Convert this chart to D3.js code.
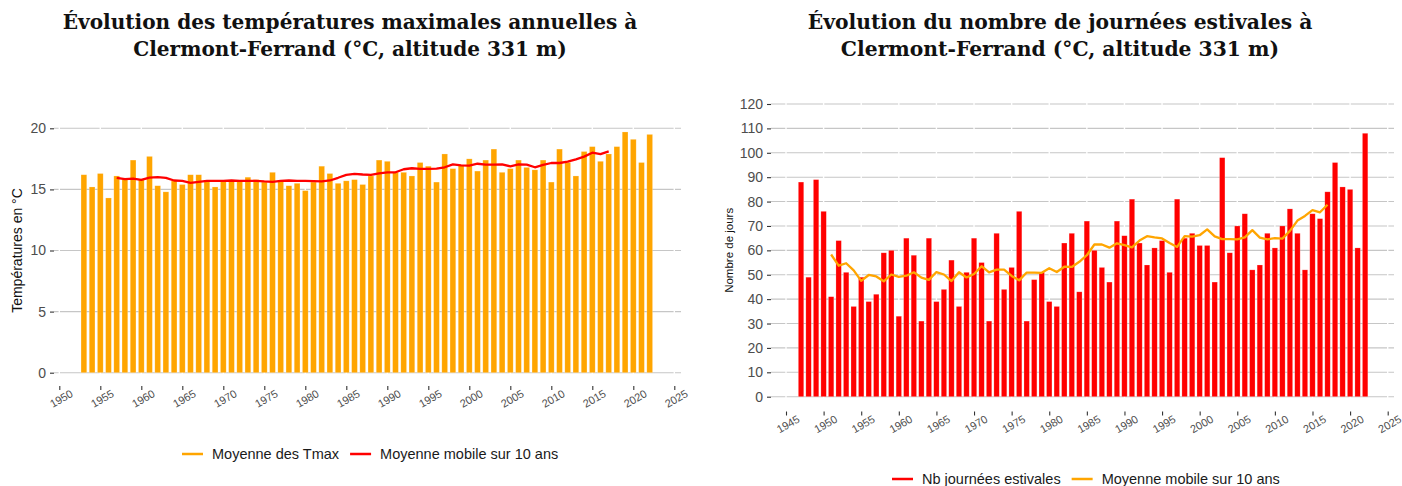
<!DOCTYPE html>
<html>
<head>
<meta charset="utf-8">
<script src="https://cdn.jsdelivr.net/npm/d3@7"></script>
<style>
  body { margin: 0; background: #ffffff; }
  svg { display: block; }
</style>
</head>
<body>
<svg id="chart" width="1402" height="486"></svg>
<script>
// ---------- Data: annual maximum temperatures ----------
const tmaxYears = [1953,1954,1955,1956,1957,1958,1959,1960,1961,1962,1963,1964,1965,1966,1967,1968,1969,1970,
  1971,1972,1973,1974,1975,1976,1977,1978,1979,1980,1981,1982,1983,1984,1985,1986,1987,1988,1989,1990,
  1991,1992,1993,1994,1995,1996,1997,1998,1999,2000,2001,2002,2003,2004,2005,2006,2007,2008,2009,2010,
  2011,2012,2013,2014,2015,2016,2017,2018,2019,2020,2021,2022];
const tmaxValues = [16.2,15.2,16.3,14.3,16.1,15.8,17.4,15.8,17.7,15.3,14.8,15.7,15.4,16.2,16.2,15.7,15.2,15.7,
  15.7,15.7,16.0,15.8,15.6,16.4,15.7,15.3,15.5,14.9,15.6,16.9,16.3,15.5,15.7,15.8,15.4,16.1,17.4,17.3,
  16.4,16.4,16.1,17.2,16.9,15.6,17.9,16.7,17.0,17.5,16.5,17.4,18.3,16.4,16.7,17.4,16.8,16.6,17.4,15.6,
  18.3,17.2,16.1,18.1,18.5,17.3,17.9,18.5,19.7,19.1,17.2,19.5];
const tmaxMAYears = [1957,1958,1959,1960,1961,1962,1963,1964,1965,1966,1967,1968,1969,1970,1971,1972,1973,
  1974,1975,1976,1977,1978,1979,1980,1981,1982,1983,1984,1985,1986,1987,1988,1989,1990,1991,1992,1993,
  1994,1995,1996,1997,1998,1999,2000,2001,2002,2003,2004,2005,2006,2007,2008,2009,2010,2011,2012,2013,
  2014,2015,2016,2017];
const tmaxMAValues = [15.95,15.84,15.89,15.78,15.97,16.00,15.95,15.73,15.70,15.54,15.62,15.70,15.70,15.70,
  15.73,15.70,15.70,15.70,15.65,15.62,15.70,15.73,15.70,15.70,15.68,15.65,15.73,15.95,16.19,16.27,16.22,
  16.19,16.32,16.40,16.40,16.65,16.73,16.68,16.68,16.70,16.81,17.05,16.97,16.95,17.10,17.03,17.03,17.05,
  16.89,17.05,17.03,16.81,17.00,17.16,17.16,17.27,17.46,17.68,18.00,17.89,18.11];
const tmaxYTicks = [0, 5, 10, 15, 20];
const tmaxXTicks = [1950,1955,1960,1965,1970,1975,1980,1985,1990,1995,2000,2005,2010,2015,2020,2025];

// ---------- Data: number of summer days ----------
const summerYears = [1947,1948,1949,1950,1951,1952,1953,1954,1955,1956,1957,1958,1959,1960,1961,1962,1963,
  1964,1965,1966,1967,1968,1969,1970,1971,1972,1973,1974,1975,1976,1977,1978,1979,1980,1981,1982,1983,
  1984,1985,1986,1987,1988,1989,1990,1991,1992,1993,1994,1995,1996,1997,1998,1999,2000,2001,2002,2003,
  2004,2005,2006,2007,2008,2009,2010,2011,2012,2013,2014,2015,2016,2017,2018,2019,2020,2021,2022];
const summerValues = [88,49,89,76,41,64,51,37,49,39,42,59,60,33,65,58,31,65,39,44,56,37,51,65,55,31,67,44,
  53,76,31,48,51,39,37,63,67,43,72,60,53,47,72,66,81,63,54,61,64,51,81,65,67,62,62,47,98,59,70,75,52,54,
  67,61,70,77,67,52,75,73,84,96,86,85,61,108];
const summerMAYears = [1951,1952,1953,1954,1955,1956,1957,1958,1959,1960,1961,1962,1963,1964,1965,1966,1967,
  1968,1969,1970,1971,1972,1973,1974,1975,1976,1977,1978,1979,1980,1981,1982,1983,1984,1985,1986,1987,
  1988,1989,1990,1991,1992,1993,1994,1995,1996,1997,1998,1999,2000,2001,2002,2003,2004,2005,2006,2007,
  2008,2009,2010,2011,2012,2013,2014,2015,2016,2017];
const summerMAValues = [58.3,53.7,54.7,51.8,47.5,49.9,49.3,47.3,50.1,49.1,49.6,51.0,48.8,47.9,51.1,50.1,47.4,
  51.0,48.9,50.3,53.5,51.0,52.1,52.1,49.5,47.7,50.9,50.9,50.8,52.7,51.1,53.3,53.2,55.3,58.0,62.4,62.4,
  61.1,62.9,62.1,61.2,64.0,65.8,65.3,64.9,63.0,61.4,65.8,65.6,66.2,68.6,65.7,64.6,64.6,64.5,65.3,68.3,
  65.2,64.5,65.0,64.8,68.0,72.2,74.1,76.5,75.6,78.7];
const summerYTicks = [0,10,20,30,40,50,60,70,80,90,100,110,120];
const summerXTicks = [1945,1950,1955,1960,1965,1970,1975,1980,1985,1990,1995,2000,2005,2010,2015,2020,2025];

// ---------- Text ----------
const tmaxTitle = ["Évolution des températures maximales annuelles à", "Clermont-Ferrand (°C, altitude 331 m)"];
const summerTitle = ["Évolution du nombre de journées estivales à", "Clermont-Ferrand (°C, altitude 331 m)"];
const tmaxYLabel = "Températures en °C";
const summerYLabel = "Nombre de jours";
const tmaxLegend = ["Moyenne des Tmax", "Moyenne mobile sur 10 ans"];
const summerLegend = ["Nb journées estivales", "Moyenne mobile sur 10 ans"];

const ORANGE = "#FFA500";
const RED = "#FF0000";
const GRID = "#c6c6c6";
const SANS = "'Liberation Sans', Arial, Helvetica, sans-serif";
const SERIF = "'DejaVu Serif', 'Liberation Serif', serif";

const svg = d3.select("#chart");

function drawTitle(lines, cx, width1) {
  const g = svg.append("g");
  const t1 = g.append("text").text(lines[0])
    .attr("x", cx).attr("y", 29).attr("text-anchor", "middle")
    .attr("font-family", SERIF).attr("font-weight", "bold").attr("font-size", 20).attr("fill", "#111");
  const w = t1.node().getComputedTextLength();
  const fs = 20 * width1 / w;
  t1.attr("font-size", fs);
  g.append("text").text(lines[1])
    .attr("x", cx).attr("y", 56).attr("text-anchor", "middle")
    .attr("font-family", SERIF).attr("font-weight", "bold").attr("font-size", fs).attr("fill", "#111");
}

function drawPanel(cfg) {
  const g = svg.append("g");
  const x = d3.scaleLinear().domain(cfg.xDomain).range(cfg.xRange);
  const y = d3.scaleLinear().domain(cfg.yDomain).range(cfg.yRange);
  const [pl, pr] = cfg.panelX;
  const pb = cfg.panelBottom;
  const pt = cfg.panelTop;

  // horizontal grid
  g.append("g").selectAll("line").data(cfg.yTicks).join("line")
    .attr("x1", pl).attr("x2", pr)
    .attr("y1", d => y(d)).attr("y2", d => y(d))
    .attr("stroke", GRID).attr("stroke-width", 1.1);
  // white vertical grid (breaks in the horizontal lines)
  g.append("g").selectAll("line").data(cfg.xTicks).join("line")
    .attr("x1", d => x(d)).attr("x2", d => x(d))
    .attr("y1", pt).attr("y2", pb)
    .attr("stroke", "#ffffff").attr("stroke-width", 1.4);

  // bars
  const band = Math.abs(x(cfg.xDomain[0] + 1) - x(cfg.xDomain[0]));
  const bw = band * cfg.barRatio;
  g.append("g").selectAll("rect").data(d3.zip(cfg.years, cfg.values)).join("rect")
    .attr("x", d => x(d[0]) - bw / 2)
    .attr("width", bw)
    .attr("y", d => y(d[1]))
    .attr("height", d => y(0) - y(d[1]))
    .attr("fill", cfg.barColor)
    .attr("stroke", "#ffffff").attr("stroke-opacity", 0.35).attr("stroke-width", 0.6);

  // moving average
  const line = d3.line().x(d => x(d[0])).y(d => y(d[1]));
  g.append("path").datum(d3.zip(cfg.maYears, cfg.maValues))
    .attr("d", line).attr("fill", "none")
    .attr("stroke", cfg.lineColor).attr("stroke-width", 2.3)
    .attr("stroke-linejoin", "round").attr("stroke-linecap", "butt");

  // y axis
  const ya = g.append("g").attr("transform", `translate(${pl},0)`)
    .call(d3.axisLeft(y).tickValues(cfg.yTicks).tickSize(4).tickPadding(4).tickFormat(d3.format("d")));
  ya.select(".domain").remove();
  ya.selectAll(".tick line").attr("stroke", "#333333").attr("stroke-width", 1.1);
  ya.selectAll(".tick text").attr("font-family", SANS).attr("font-size", cfg.yTickSize).attr("fill", "#4d4d4d");

  // x axis
  const xa = g.append("g").attr("transform", `translate(0,${pb})`)
    .call(d3.axisBottom(x).tickValues(cfg.xTicks).tickSize(4).tickFormat(d3.format("d")));
  xa.select(".domain").remove();
  xa.selectAll(".tick line").attr("stroke", "#333333").attr("stroke-width", 1.1);
  xa.selectAll(".tick text")
    .attr("y", null).attr("dy", null)
    .attr("transform", "translate(1.5,12.5) rotate(-30)")
    .attr("text-anchor", "middle").attr("dominant-baseline", "central")
    .attr("font-family", SANS).attr("font-size", 11).attr("fill", "#4d4d4d");

  // y axis title
  g.append("text").text(cfg.yLabel)
    .attr("transform", `translate(${cfg.yLabelX},${(y(cfg.yTicks[0]) + y(cfg.yTicks[cfg.yTicks.length - 1])) / 2 + cfg.yLabelShift}) rotate(-90)`)
    .attr("text-anchor", "middle").attr("dominant-baseline", "central")
    .attr("font-family", SANS).attr("font-size", cfg.yLabelSize).attr("fill", "#111");

  // legend
  const lg = g.append("g");
  let cx = cfg.legendX;
  cfg.legendLabels.forEach((lab, i) => {
    lg.append("line").attr("x1", cx).attr("x2", cx + 21)
      .attr("y1", cfg.legendY).attr("y2", cfg.legendY)
      .attr("stroke", cfg.legendColors[i]).attr("stroke-width", 2.5);
    const t = lg.append("text").text(lab)
      .attr("x", cx + 30).attr("y", cfg.legendY)
      .attr("dominant-baseline", "central")
      .attr("font-family", SANS).attr("font-size", 14.5).attr("fill", "#1a1a1a");
    cx = cx + 30 + t.node().getComputedTextLength() + 11;
  });
}

drawTitle(tmaxTitle, 350, 575);
drawTitle(summerTitle, 1060, 505);

drawPanel({
  years: tmaxYears, values: tmaxValues, maYears: tmaxMAYears, maValues: tmaxMAValues,
  yTicks: tmaxYTicks, xTicks: tmaxXTicks,
  xDomain: [1950, 2025], xRange: [59.3, 674.3],
  yDomain: [0, 20], yRange: [372.7, 128.3],
  panelX: [54, 681], panelTop: 112, panelBottom: 386,
  barRatio: 0.7, barColor: ORANGE, lineColor: RED,
  yTickSize: 14, yLabel: tmaxYLabel, yLabelX: 17, yLabelShift: 0, yLabelSize: 14,
  legendLabels: tmaxLegend, legendColors: [ORANGE, RED], legendX: 182, legendY: 454
});

drawPanel({
  years: summerYears, values: summerValues, maYears: summerMAYears, maValues: summerMAValues,
  yTicks: summerYTicks, xTicks: summerXTicks,
  xDomain: [1945, 2025], xRange: [786, 1387.7],
  yDomain: [0, 120], yRange: [396.7, 104],
  panelX: [771, 1394], panelTop: 92, panelBottom: 411.5,
  barRatio: 0.72, barColor: RED, lineColor: ORANGE,
  yTickSize: 14, yLabel: summerYLabel, yLabelX: 729, yLabelShift: 0, yLabelSize: 11.5,
  legendLabels: summerLegend, legendColors: [RED, ORANGE], legendX: 892, legendY: 479
});
</script>
</body>
</html>
